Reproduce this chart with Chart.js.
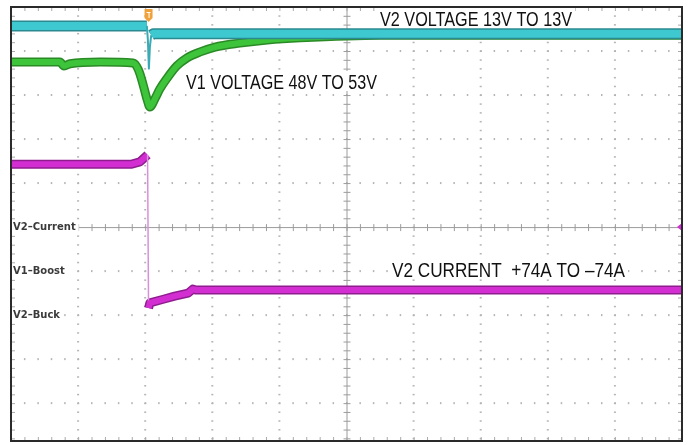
<!DOCTYPE html>
<html>
<head>
<script src="https://cdn.jsdelivr.net/npm/chart.js"></script>
<style>
  html, body { margin: 0; padding: 0; background: #fff; }
  #wrap { width: 688px; height: 445px; }
</style>
</head>
<body>
<div id="wrap"><canvas id="scope"></canvas></div>
<script>
// screen is measured in divisions: 10 across, 5 above centre, bottom edge cut at -4.86
var xRange = [-5, 5];
var yRange = [-4.86, 5];
var gridX = [-4, -3, -2, -1, 0, 1, 2, 3, 4];
var gridY = [-4, -3, -2, -1, 0, 1, 2, 3, 4];

// V2 voltage (cyan), the glitch runs from spikeFrom to spikeTo
var v2VoltX = [-5.0, -2.975, -2.96, -2.945, -2.93, -2.91, -2.88, 5.0];
var v2VoltY = [4.57, 4.57, 4.25, 3.6, 4.1, 4.36, 4.39, 4.39];
var spikeFrom = 1, spikeTo = 5;

// V1 voltage (green)
var v1VoltX = [-5.0, -4.27, -4.21, -4.12, -3.67, -3.18, -3.10, -3.03, -2.97, -2.93, -2.85, -2.78, -2.67, -2.53, -2.38, -2.18, -1.96, -1.59, -1.18, -0.69, 0.5, 5.0];
var v1VoltY = [3.75, 3.75, 3.66, 3.71, 3.75, 3.73, 3.57, 3.23, 2.89, 2.73, 2.93, 3.14, 3.39, 3.66, 3.84, 3.98, 4.09, 4.18, 4.25, 4.30, 4.36, 4.36];

// V2 current (magenta), the drop is the segment starting at dropIdx
var v2CurX = [-5.0, -3.20, -3.08, -2.965, -2.95, -2.93, -2.73, -2.56, -2.36, -2.29, -2.24, 5.0];
var v2CurY = [1.43, 1.43, 1.48, 1.64, -1.84, -1.72, -1.64, -1.57, -1.50, -1.41, -1.43, -1.43];
var dropIdx = 3;

var triggerX = -2.95;
var traceLabels = ['V2 VOLTAGE 13V TO 13V', 'V1 VOLTAGE 48V TO 53V', 'V2 CURRENT  +74A TO \u201374A'];
var refLabels = ['V2\u2013Current', 'V1\u2013Boost', 'V2\u2013Buck'];
var refLevels = [0, -1, -2];

function pts(xs, ys) {
  return xs.map(function (x, i) { return { x: x, y: ys[i] }; });
}
function inSpike(c) {
  return c.p0DataIndex >= spikeFrom && c.p0DataIndex < spikeTo;
}

var CYAN = '#3ec8d0', GREEN = '#3ec43a', MAGENTA = '#d22ed2';

var scopeGrid = {
  id: 'scopeGrid',
  beforeDatasetsDraw: function (chart) {
    var ctx = chart.ctx, a = chart.chartArea;
    var xs = chart.scales.x, ys = chart.scales.y;
    ctx.save();
    ctx.fillStyle = '#b4b4b4';
    // dotted major lines, one dot every 0.2 div
    gridX.forEach(function (gx) {
      if (gx === 0) return;
      var px = xs.getPixelForValue(gx);
      for (var k = -24; k <= 25; k++) {
        var py = ys.getPixelForValue(k * 0.2);
        ctx.fillRect(px - 1, py - 0.5, 2, 1.5);
      }
    });
    gridY.forEach(function (gy) {
      if (gy === 0) return;
      var py = ys.getPixelForValue(gy);
      for (var k = -25; k <= 25; k++) {
        var px = xs.getPixelForValue(k * 0.2);
        ctx.fillRect(px - 0.5, py - 1, 1.5, 2);
      }
    });
    // centre cross with minor ticks
    var cx = xs.getPixelForValue(0), cy = ys.getPixelForValue(0);
    ctx.strokeStyle = '#9c9c9c';
    ctx.lineWidth = 1;
    ctx.beginPath();
    ctx.moveTo(a.left, cy + 0.5); ctx.lineTo(a.right, cy + 0.5);
    ctx.moveTo(cx + 0.5, a.top); ctx.lineTo(cx + 0.5, a.bottom);
    for (var i = -25; i <= 25; i++) {
      var tx = xs.getPixelForValue(i * 0.2);
      ctx.moveTo(tx + 0.5, cy - 3); ctx.lineTo(tx + 0.5, cy + 4);
    }
    for (var j = -24; j <= 25; j++) {
      var ty = ys.getPixelForValue(j * 0.2);
      ctx.moveTo(cx - 3, ty + 0.5); ctx.lineTo(cx + 4, ty + 0.5);
    }
    ctx.stroke();
    // small ticks along the frame
    ctx.strokeStyle = '#aaaaaa';
    ctx.beginPath();
    for (var m = -24; m <= 25; m++) {
      var ey = ys.getPixelForValue(m * 0.2);
      ctx.moveTo(a.left, ey + 0.5); ctx.lineTo(a.left + 4, ey + 0.5);
      ctx.moveTo(a.right - 4, ey + 0.5); ctx.lineTo(a.right, ey + 0.5);
    }
    for (var n = -25; n <= 25; n++) {
      var ex = xs.getPixelForValue(n * 0.2);
      ctx.moveTo(ex + 0.5, a.top); ctx.lineTo(ex + 0.5, a.top + 4);
      ctx.moveTo(ex + 0.5, a.bottom - 4); ctx.lineTo(ex + 0.5, a.bottom);
    }
    ctx.stroke();
    ctx.restore();
  },
  afterDatasetsDraw: function (chart) {
    var ctx = chart.ctx, a = chart.chartArea;
    var xs = chart.scales.x, ys = chart.scales.y;
    ctx.save();

    // channel reference labels on the left
    ctx.font = 'bold 10px "DejaVu Sans", sans-serif';
    ctx.textBaseline = 'middle';
    refLabels.forEach(function (t, i) {
      var py = ys.getPixelForValue(refLevels[i]);
      var w = ctx.measureText(t).width;
      ctx.fillStyle = '#fff';
      ctx.fillRect(a.left + 1, py - 7, w + 4, 14);
      ctx.fillStyle = '#3a3a3a';
      ctx.fillText(t, a.left + 2, py + 0.5);
    });

    // trace annotations, condensed sans
    var spots = [[380, 19, 192], [186, 82, 191], [392, 270, 233]];
    ctx.font = '20px "Liberation Sans", Arial, sans-serif';
    traceLabels.forEach(function (t, i) {
      var s = spots[i];
      var w = ctx.measureText(t).width;
      ctx.fillStyle = '#fff';
      ctx.fillRect(s[0] - 4, s[1] - 11, s[2] + 7, 20);
      ctx.fillStyle = '#111';
      ctx.save();
      ctx.translate(s[0], s[1] + 1);
      ctx.scale(s[2] / w, 1);
      ctx.fillText(t, 0, 0);
      ctx.restore();
    });

    // trigger marker at the top
    var tx = xs.getPixelForValue(triggerX);
    ctx.fillStyle = '#f0a23a';
    ctx.beginPath();
    ctx.moveTo(tx - 4, a.top + 2);
    ctx.lineTo(tx + 4, a.top + 2);
    ctx.lineTo(tx + 4, a.top + 11);
    ctx.lineTo(tx, a.top + 15);
    ctx.lineTo(tx - 4, a.top + 11);
    ctx.closePath();
    ctx.fill();
    ctx.strokeStyle = '#fff';
    ctx.lineWidth = 1;
    ctx.beginPath();
    ctx.moveTo(tx - 2, a.top + 5.5); ctx.lineTo(tx + 2, a.top + 5.5);
    ctx.moveTo(tx + 0.5, a.top + 5.5); ctx.lineTo(tx + 0.5, a.top + 11);
    ctx.stroke();

    // current channel ground marker on the right edge
    var gy = ys.getPixelForValue(0);
    ctx.fillStyle = MAGENTA;
    ctx.beginPath();
    ctx.moveTo(a.right - 5, gy);
    ctx.lineTo(a.right, gy - 4);
    ctx.lineTo(a.right, gy + 4);
    ctx.closePath();
    ctx.fill();

    // frame
    ctx.strokeStyle = '#2a2a2a';
    ctx.lineWidth = 2;
    ctx.strokeRect(a.left, a.top, a.right - a.left, a.bottom - a.top);
    ctx.restore();
  }
};

// lower "order" is painted on top: bright trace over its dark noise edge,
// cyan over green, magenta on top
new Chart(document.getElementById('scope'), {
  type: 'line',
  data: {
    datasets: [
      { label: 'V1 edge', order: 6, data: pts(v1VoltX, v1VoltY), borderColor: '#2a8a26', borderWidth: 9, cubicInterpolationMode: 'monotone' },
      { label: 'V1 VOLTAGE', order: 5, data: pts(v1VoltX, v1VoltY), borderColor: GREEN, borderWidth: 6, cubicInterpolationMode: 'monotone' },
      {
        label: 'V2 edge', order: 4, data: pts(v2VoltX, v2VoltY), borderColor: '#2a8a90', borderWidth: 11,
        segment: {
          borderColor: function (c) { return inSpike(c) ? 'rgba(0,0,0,0)' : '#2a8a90'; }
        }
      },
      {
        label: 'V2 VOLTAGE', order: 3, data: pts(v2VoltX, v2VoltY), borderColor: CYAN, borderWidth: 8,
        segment: {
          borderColor: function (c) { return inSpike(c) ? '#3aaab4' : CYAN; },
          borderWidth: function (c) { return inSpike(c) ? 2 : 8; }
        }
      },
      {
        label: 'I edge', order: 2, data: pts(v2CurX, v2CurY), borderColor: '#8e1e8e', borderWidth: 9,
        segment: {
          borderColor: function (c) { return c.p0DataIndex === dropIdx ? 'rgba(0,0,0,0)' : '#8e1e8e'; }
        }
      },
      {
        label: 'V2 CURRENT', order: 1, data: pts(v2CurX, v2CurY), borderColor: MAGENTA, borderWidth: 6,
        segment: {
          borderColor: function (c) { return c.p0DataIndex === dropIdx ? '#dc8ede' : MAGENTA; },
          borderWidth: function (c) { return c.p0DataIndex === dropIdx ? 1.5 : 6; }
        }
      }
    ]
  },
  options: {
    responsive: true,
    maintainAspectRatio: false,
    animation: false,
    layout: { padding: { left: 11, top: 7, right: 6, bottom: 4 } },
    elements: { point: { radius: 0 }, line: { tension: 0, borderCapStyle: 'butt', borderJoinStyle: 'round' } },
    plugins: { legend: { display: false }, tooltip: { enabled: false } },
    scales: {
      x: { type: 'linear', display: false, min: xRange[0], max: xRange[1] },
      y: { type: 'linear', display: false, min: yRange[0], max: yRange[1] }
    }
  },
  plugins: [scopeGrid]
});
</script>
</body>
</html>
